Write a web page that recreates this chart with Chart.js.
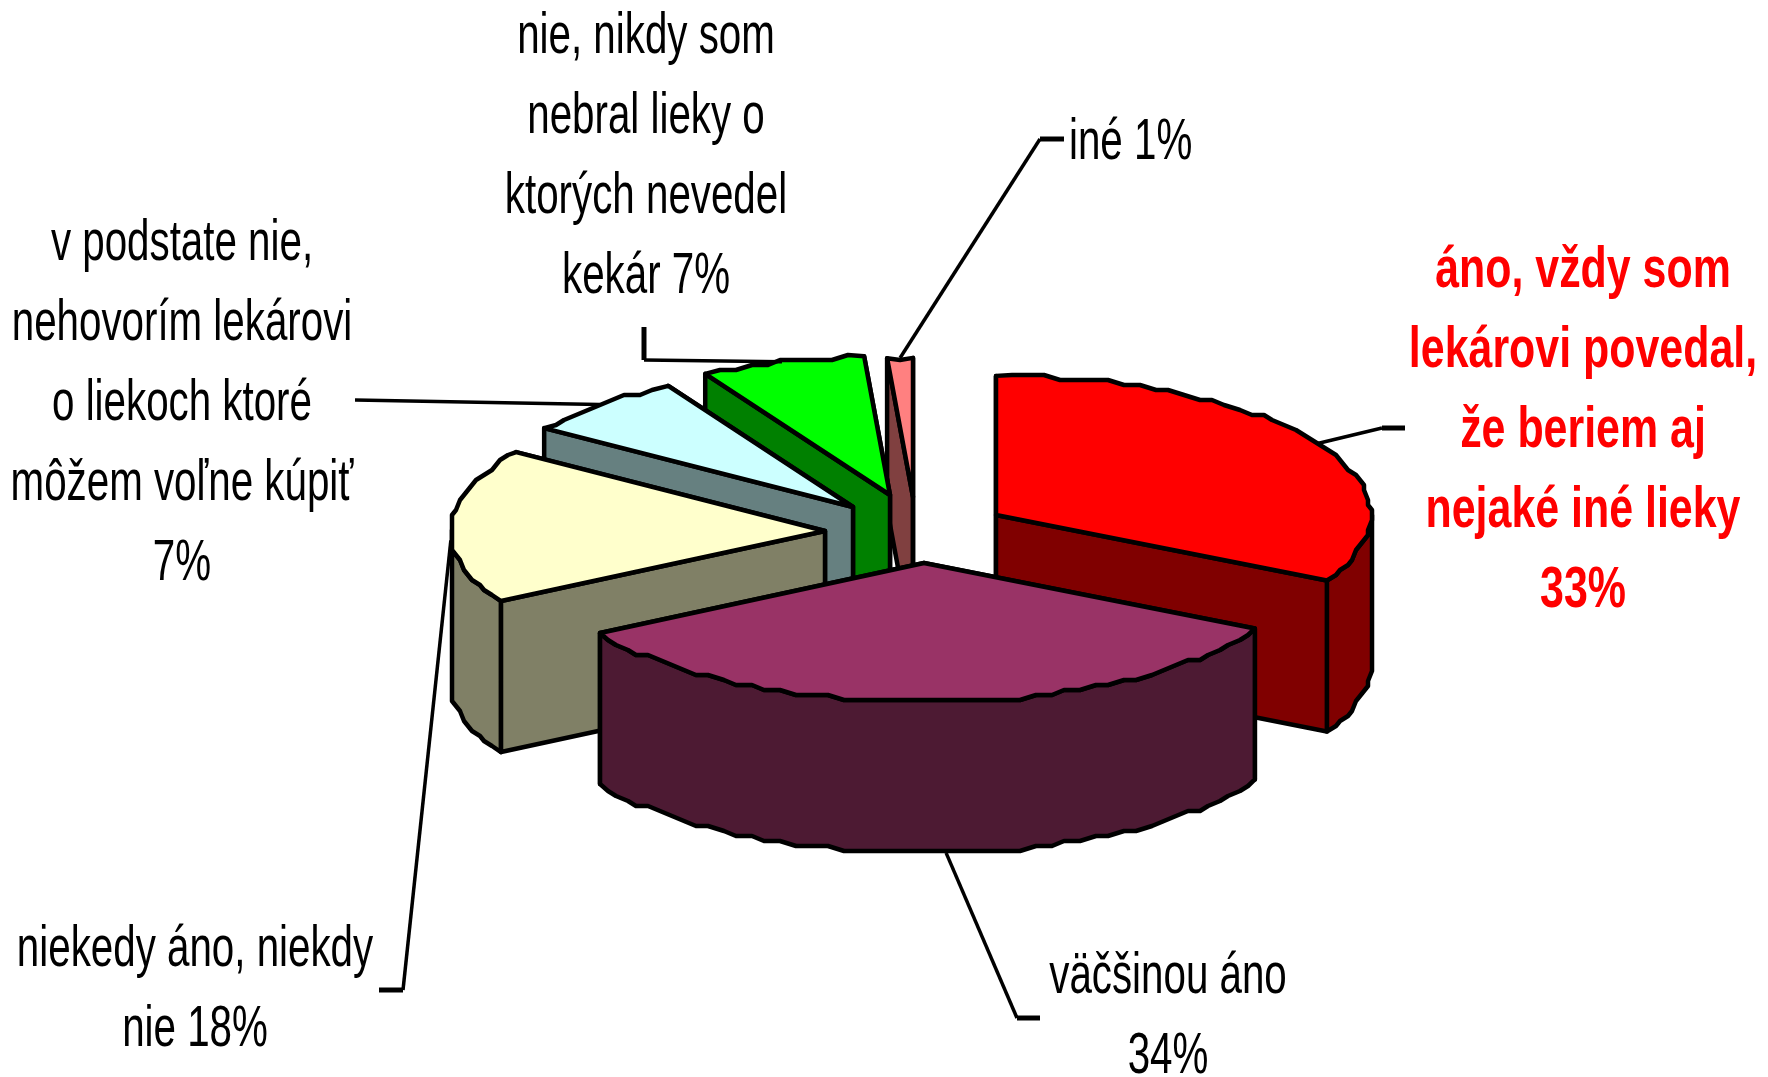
<!DOCTYPE html>
<html lang="sk">
<head>
<meta charset="utf-8">
<title>Graf</title>
<style>
    html, body { margin: 0; padding: 0; background: #fff; }
    canvas { display: block; }
</style>
</head>
<body>
<canvas id="pieChart" width="1768" height="1077"></canvas>
<script src="https://cdn.jsdelivr.net/npm/chart.js@4/dist/chart.umd.min.js"></script>
<script>
const categories = [
    'áno, vždy som lekárovi povedal, že beriem aj nejaké iné lieky',
    'väčšinou áno',
    'niekedy áno, niekdy nie',
    'v podstate nie, nehovorím lekárovi o liekoch ktoré môžem voľne kúpiť',
    'nie, nikdy som nebral lieky o ktorých nevedel kekár',
    'iné'
];
// printed as 33, 34, 18, 7, 7, 1; decimals
const percentages = [32.8, 33.8, 18.0, 7.2, 7.1, 1.1];

const labelLines = [
    ['áno, vždy som', 'lekárovi povedal,', 'že beriem aj', 'nejaké iné lieky', '33%'],
    ['väčšinou áno', '34%'],
    ['niekedy áno, niekdy', 'nie 18%'],
    ['v podstate nie,', 'nehovorím lekárovi', 'o liekoch ktoré', 'môžem voľne kúpiť', '7%'],
    ['nie, nikdy som', 'nebral lieky o', 'ktorých nevedel', 'kekár 7%'],
    ['iné 1%']
];

// styling and layout, not data
const topColors = ['#ff0000', '#993366', '#ffffcc', '#ccffff', '#00ff00', '#ff8080'];
const wallColors = ['#800000', '#4d1a33', '#808066', '#668080', '#008000', '#804040'];
const drawOrder = [5, 4, 3, 2, 0, 1];
const explode = [[80, -17], [8, 31], [-91, -1], [-63, -25], [-26, -37], [-3, -35]];
const squash = 0.371;
const depth = 151;
const labelX = [1583, 1168, 195, 182, 646, 1069];
const labelY = [287, 993, 966, 260, 53, 159];
const labelAlign = ['center', 'center', 'center', 'center', 'center', 'left'];
const leaderTweak = [0, -2.3, -6, 0, 0, 0]; // degrees along the rim
const leaderElbow = [[1382, 428], [1017, 1018], [403, 990], [355, 400], [644, 360], [1040, 139]];
const leaderEnd = [[1405, 428], [1040, 1018], [379, 990], [355, 400], [644, 327], [1064, 139]];

function rimPoints(arc, i) {
    const cx = arc.x + explode[i][0];
    const cy = arc.y + explode[i][1];
    const r = arc.outerRadius;
    const pts = [];
    const front = [];
    const steps = Math.max(2, Math.round((arc.endAngle - arc.startAngle) / (Math.PI / 72)));
    for (let s = 0; s <= steps; s++) {
        const a = arc.startAngle + (arc.endAngle - arc.startAngle) * s / steps;
        let x = cx + r * Math.cos(a);
        let y = cy + r * Math.sin(a) * squash;
        // old office renderer look: rim is stepped, corners stay exact
        if (s > 0 && s < steps) {
            x = Math.round(x / 4) * 4;
            y = Math.round(y / 5) * 5;
        }
        pts.push([x, y]);
        if (Math.sin(a) >= -0.01) front.push([x, y]);
    }
    return { cx, cy, pts, front };
}

function tracePolygon(ctx, pts) {
    ctx.beginPath();
    pts.forEach((p, n) => (n ? ctx.lineTo(p[0], p[1]) : ctx.moveTo(p[0], p[1])));
    ctx.closePath();
}

function paint(ctx, pts, color) {
    tracePolygon(ctx, pts);
    ctx.fillStyle = color;
    ctx.fill();
    ctx.stroke();
}

function cutFace(cx, cy, p) {
    return [[cx, cy], p, [p[0], p[1] + depth], [cx, cy + depth]];
}

const pie3d = {
    id: 'pie3d',
    beforeDatasetsDraw(chart) {
        const ctx = chart.ctx;
        const arcs = chart.getDatasetMeta(0).data;
        ctx.save();
        ctx.lineWidth = 4.5;
        ctx.lineJoin = 'round';
        ctx.strokeStyle = '#000';

        drawOrder.forEach(i => {
            const arc = arcs[i];
            const { cx, cy, pts, front } = rimPoints(arc, i);
            const first = pts[0];
            const last = pts[pts.length - 1];
            const startFaces = Math.cos(arc.startAngle) < 0;
            const endFaces = Math.cos(arc.endAngle) > 0;

            if (!startFaces) paint(ctx, cutFace(cx, cy, first), wallColors[i]);
            if (!endFaces) paint(ctx, cutFace(cx, cy, last), wallColors[i]);
            if (front.length > 1) {
                const wall = front.concat(front.slice().reverse().map(p => [p[0], p[1] + depth]));
                paint(ctx, wall, wallColors[i]);
            }
            if (startFaces) paint(ctx, cutFace(cx, cy, first), wallColors[i]);
            if (endFaces) paint(ctx, cutFace(cx, cy, last), wallColors[i]);
            paint(ctx, [[cx, cy]].concat(pts), topColors[i]);
        });
        ctx.restore();
        return false; // the flat arcs are replaced by the extruded ones
    },
    afterDraw(chart) {
        const ctx = chart.ctx;
        const arcs = chart.getDatasetMeta(0).data;
        ctx.save();

        // leader lines start on the rim at the middle of each slice
        ctx.strokeStyle = '#000';
        arcs.forEach((arc, i) => {
            const mid = (arc.startAngle + arc.endAngle) / 2 + leaderTweak[i] * Math.PI / 180;
            const x = arc.x + explode[i][0] + arc.outerRadius * Math.cos(mid);
            let y = arc.y + explode[i][1] + arc.outerRadius * Math.sin(mid) * squash;
            if (Math.sin(mid) > 0.9) y += depth;
            ctx.lineWidth = 3.5;
            ctx.beginPath();
            ctx.moveTo(x, y);
            ctx.lineTo(leaderElbow[i][0], leaderElbow[i][1]);
            ctx.stroke();
            ctx.lineWidth = 5;
            ctx.beginPath();
            ctx.moveTo(leaderElbow[i][0], leaderElbow[i][1]);
            ctx.lineTo(leaderEnd[i][0], leaderEnd[i][1]);
            ctx.stroke();
        });

        ctx.textBaseline = 'alphabetic';
        labelLines.forEach((lines, i) => {
            ctx.font = (i === 0 ? 'bold ' : '') + '58px "Liberation Sans", sans-serif';
            ctx.fillStyle = i === 0 ? '#ff0000' : '#000';
            ctx.textAlign = labelAlign[i];
            lines.forEach((line, n) => {
                // the source font is a narrow one
                const w = ctx.measureText(line).width * (i === 0 ? 0.74 : 0.695);
                ctx.fillText(line, labelX[i], labelY[i] + n * 80, w);
            });
        });
        ctx.restore();
    }
};

new Chart(document.getElementById('pieChart').getContext('2d'), {
    type: 'pie',
    data: {
        labels: categories,
        datasets: [{ data: percentages, backgroundColor: topColors, borderWidth: 0 }]
    },
    options: {
        responsive: false,
        animation: false,
        layout: { padding: { left: 541, right: 477, top: 157, bottom: 170 } },
        plugins: { legend: { display: false }, tooltip: { enabled: false } }
    },
    plugins: [pie3d]
});
</script>
</body>
</html>
